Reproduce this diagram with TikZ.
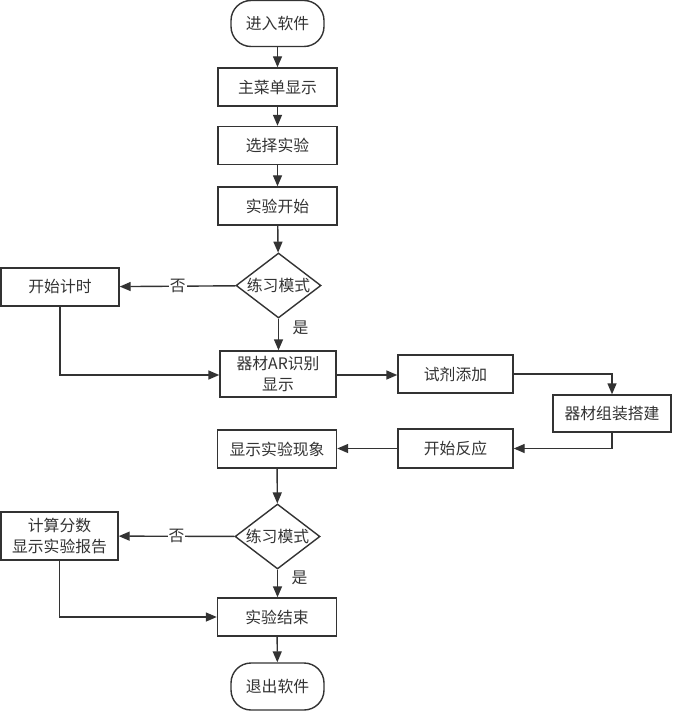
\documentclass[tikz,border=0pt]{standalone}
\usepackage{fontspec}
\newfontfamily\cjk{Noto Sans CJK SC}
\usetikzlibrary{shapes.geometric,arrows.meta}
\definecolor{ink}{HTML}{333333}
\begin{document}
\begin{tikzpicture}[x=1pt,y=-1pt,
  every node/.style={font=\cjk\fontsize{15.8}{21}\selectfont, text=ink},
  base/.style={draw=ink, line width=1.4pt, inner sep=0pt, align=center},
  box/.style={base, rectangle, minimum width=119pt, minimum height=38pt},
  term/.style={base, rectangle, rounded corners=20pt, minimum width=93pt, minimum height=46pt},
  dia/.style={base, diamond, aspect=1.3, minimum width=85pt, minimum height=65pt},
  lbl/.style={fill=white, inner sep=1pt},
  arr/.style={draw=ink, line width=1.4pt, -{Triangle[length=11pt,width=9pt]}},
  ln/.style={draw=ink, line width=1.4pt}]
\fill[white] (0,0) rectangle (672,711);
\useasboundingbox (0,0) rectangle (672,711);

\node[term] (start) at (277.5,23.5) {进入软件};
\node[box] (menu) at (277.5,87) {主菜单显示};
\node[box] (select) at (277.5,145.5) {选择实验};
\node[box] (begin) at (277.5,206) {实验开始};
\node[dia] (d1) at (278.5,285.5) {练习模式};
\node[box, minimum width=118pt] (timer) at (60,287) {开始计时};
\node[box, minimum width=116pt, minimum height=46pt] (ar) at (278,374) {器材AR识别\\显示};
\node[box, minimum width=115pt] (reagent) at (455.5,374) {试剂添加};
\node[box, minimum width=118pt, minimum height=37pt] (assemble) at (612,413.5) {器材组装搭建};
\node[box, minimum width=115pt, minimum height=39pt] (react) at (455.5,448.5) {开始反应};
\node[box] (show) at (277,449) {显示实验现象};
\node[dia] (d2) at (277.5,536.5) {练习模式};
\node[box, minimum width=117pt, minimum height=48pt] (score) at (59.5,536) {计算分数\\显示实验报告};
\node[box] (end) at (277,617) {实验结束};
\node[term, minimum height=47pt] (exit) at (277.5,686.5) {退出软件};

\draw[arr] (start) -- (menu);
\draw[arr] (menu) -- (select);
\draw[arr] (select) -- (begin);
\draw[arr] (begin) -- (d1);
\draw[arr] (d1) -- node[lbl, pos=0.5] {否} (timer);
\draw[arr] (d1.south) -- node[right, xshift=10pt, pos=0.3] {是} (d1.south |- ar.north);
\coordinate (c1) at (timer.south |- 0,375);
\draw[arr] (timer.south) -- (c1) -- (c1 -| ar.west);
\draw[arr] (ar.east |- 0,375) -- (reagent.west |- 0,375);
\draw[arr] (reagent.east) -| (assemble.north);
\draw[arr] (assemble.south) |- (react.east);
\draw[arr] (react.west) -- (show.east |- react.west);
\draw[arr] (show) -- (d2);
\draw[arr] (d2) -- node[lbl, pos=0.5] {否} (score);
\draw[arr] (d2.south) -- node[right, xshift=10pt, pos=0.3] {是} (d2.south |- end.north);
\coordinate (c2) at (score.south |- 0,617);
\draw[arr] (score.south) -- (c2) -- (c2 -| end.west);
\draw[arr] (end) -- (exit);
\end{tikzpicture}
\end{document}
